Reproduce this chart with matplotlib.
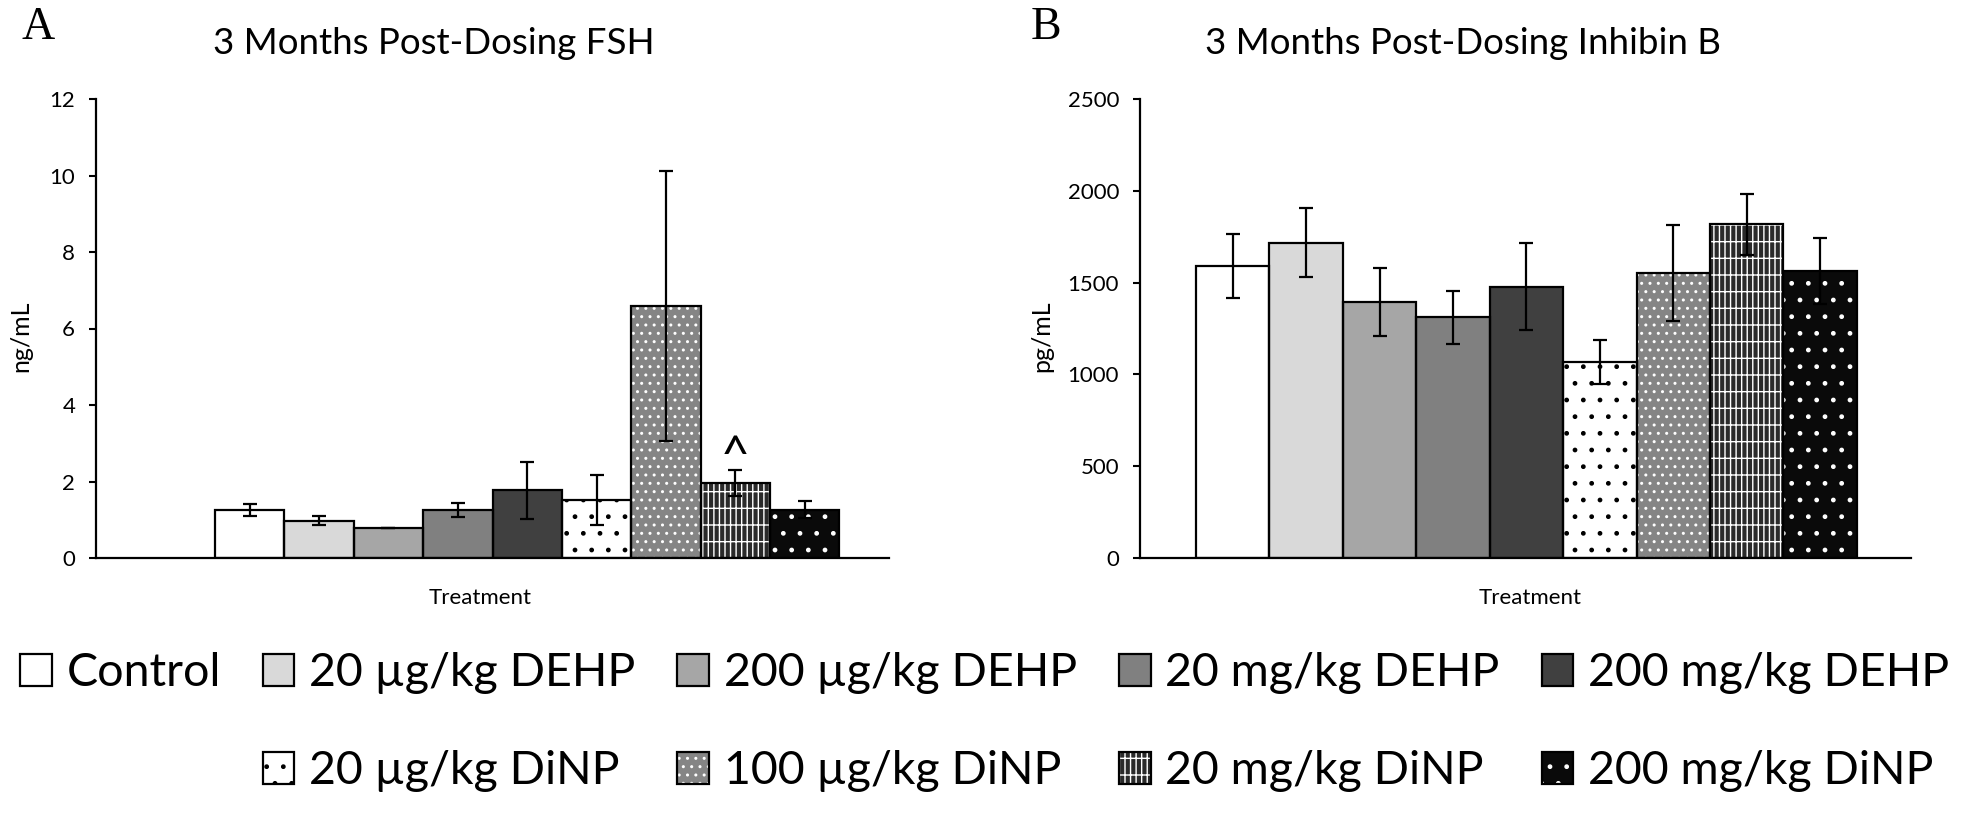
import numpy as np
import matplotlib
matplotlib.use('Agg')
import matplotlib.pyplot as plt
from matplotlib.patches import Patch
from matplotlib.legend_handler import HandlerTuple

plt.rcParams['font.family'] = ['Lato', 'DejaVu Sans']
plt.rcParams['hatch.linewidth'] = 1.0

# data
groups = ['Control', '20 µg/kg DEHP', '200 µg/kg DEHP', '20 mg/kg DEHP', '200 mg/kg DEHP',
          '20 µg/kg DiNP', '100 µg/kg DiNP', '20 mg/kg DiNP', '200 mg/kg DiNP']
fsh = [1.26, 0.97, 0.78, 1.26, 1.77, 1.51, 6.58, 1.97, 1.26]
fsh_err = [0.16, 0.12, 0.0, 0.19, 0.74, 0.65, 3.53, 0.34, 0.22]
inhb = [1589, 1718, 1393, 1310, 1478, 1065, 1552, 1817, 1562]
inhb_err = [175, 187, 186, 145, 235, 120, 260, 168, 180]

face = ['white', '#d9d9d9', '#a6a6a6', '#808080', '#404040', 'white', '#858585', '#2a2a2a', '#0a0a0a']
hatch = [None, None, None, None, None, '.', '..', '|||-', '.']
hatch_col = ['black', 'black', 'black', 'black', 'black', 'black', 'white', 'white', 'white']

W, H = 1980, 819
fig = plt.figure(figsize=(W / 100, H / 100), dpi=100)


def draw_panel(rect, vals, errs, xoff, xmax, ymax, ystep):
    ax = fig.add_axes(rect)
    x = np.arange(len(vals)) + xoff
    ax.bar(x, vals, width=1, color=face, linewidth=0)
    for i in range(len(vals)):
        if hatch[i]:
            ax.bar(x[i], vals[i], width=1, fill=False, hatch=hatch[i],
                   edgecolor=hatch_col[i], linewidth=0)
    ax.bar(x, vals, width=1, fill=False, edgecolor='black', linewidth=1.6)
    ax.errorbar(x, vals, yerr=errs, fmt='none', ecolor='black', elinewidth=1.6,
                capsize=5, capthick=1.6)
    ax.set_xlim(0, xmax)
    ax.set_ylim(0, ymax)
    ax.set_yticks(np.arange(0, ymax + ystep / 2, ystep))
    ax.set_xticks([])
    for s in ['top', 'right']:
        ax.spines[s].set_visible(False)
    for s in ['left', 'bottom']:
        ax.spines[s].set_linewidth(1.6)
    ax.tick_params(axis='y', length=5, width=1.5, pad=10, labelsize=16)
    return ax, x


def px_rect(x0, x1, y0, y1):
    return [x0 / W, 1 - y1 / H, (x1 - x0) / W, (y1 - y0) / H]


axA, xA = draw_panel(px_rect(96, 889, 99, 558), fsh, fsh_err, 2.215, 11.43, 12, 2)
axB, xB = draw_panel(px_rect(1140, 1911, 99, 558), inhb, inhb_err, 1.263, 10.50, 2500, 500)

axA.text(xA[7], 2.25, '^', ha='center', va='baseline', fontsize=36)

for ax, cx in [(axA, 0.484), (axB, 0.506)]:
    ax.set_xlabel('Treatment', fontsize=16)
    ax.xaxis.set_label_coords(cx, -0.065)

fig.text(21 / W, 1 - 336 / H, 'ng/mL', rotation=90, ha='center', va='center', fontsize=18)
fig.text(1042 / W, 1 - 336 / H, 'pg/mL', rotation=90, ha='center', va='center', fontsize=18)

fig.text(434 / W, 1 - 44 / H, '3 Months Post-Dosing FSH', ha='center', va='center', fontsize=26.5)
fig.text(1463 / W, 1 - 44 / H, '3 Months Post-Dosing Inhibin B', ha='center', va='center', fontsize=26.5)
fig.text(22 / W, 1 - 28 / H, 'A', ha='left', va='center', fontsize=33, family='Liberation Serif')
fig.text(1031 / W, 1 - 28 / H, 'B', ha='left', va='center', fontsize=33, family='Liberation Serif')

# legend: 5 columns, second row starts in column 2
def handle(i):
    parts = [Patch(facecolor=face[i], linewidth=0)]
    if hatch[i]:
        parts.append(Patch(fill=False, hatch=hatch[i], edgecolor=hatch_col[i], linewidth=0))
    parts.append(Patch(fill=False, edgecolor='black', linewidth=1.6))
    return tuple(parts)

blank = Patch(visible=False)
row1 = list(range(5))
row2 = [None] + list(range(5, 9))
handles, labels = [], []
for a, b in zip(row1, row2):
    handles.append(handle(a))
    labels.append(groups[a])
    handles.append(blank if b is None else handle(b))
    labels.append('' if b is None else groups[b])

fig.legend(handles, labels, ncol=5, loc='upper left', bbox_to_anchor=(20 / W, 1 - 652 / H),
           frameon=False, fontsize=33.5, handlelength=0.68, handleheight=0.68,
           handletextpad=0.32, columnspacing=0.9, labelspacing=1.2, borderpad=0,
           borderaxespad=0, handler_map={tuple: HandlerTuple(ndivide=1, pad=0)})

fig.savefig('out.png', dpi=100)
